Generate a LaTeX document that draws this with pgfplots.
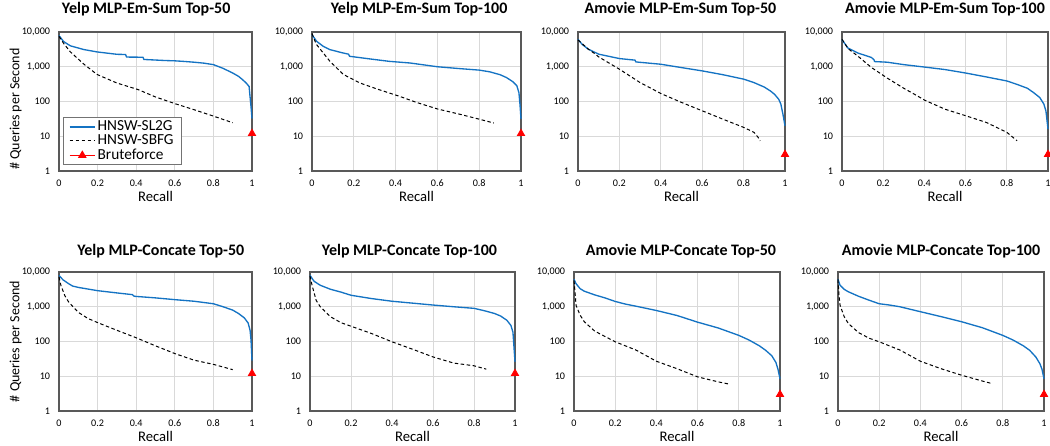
\documentclass[border=0pt]{standalone}
\usepackage{fontspec}
\setmainfont{Carlito}
\usepackage{pgfplots}
\pgfplotsset{compat=1.18}

\definecolor{sltwo}{RGB}{20,115,195}
\definecolor{gridc}{RGB}{217,217,217}
\newcommand{\lgf}{\fontsize{11.5}{12.5}\selectfont}

\pgfplotsset{
  panel/.style={
    scale only axis,
    anchor=south west,
    height=104.25pt,
    xmin=0, xmax=1, ymin=1, ymax=10000,
    clip=false,
    xtick={0,0.2,0.4,0.6,0.8,1},
    xticklabels={0,0.2,0.4,0.6,0.8,1},
    ytick={1,10,100,1000,10000},
    yticklabels={1,10,100,{1,000},{10,000}},
    minor ytick={}, major tick length=0pt, minor tick length=0pt,
    grid=major,
    grid style={gridc, line width=0.6pt},
    axis line style={black!65, line width=0.8pt},
    tick label style={font=\fontsize{7.6}{9}\selectfont},
    xticklabel style={anchor=base, inner sep=0pt, yshift=-12pt},
    yticklabel style={anchor=east, inner sep=0pt, xshift=-6.5pt},
    xlabel={Recall},
    xlabel style={font=\fontsize{11}{13}\selectfont, at={(axis description cs:0.5,0)}, anchor=base, yshift=-23pt},
    title style={font=\bfseries\fontsize{12}{14}\selectfont, at={(axis description cs:0.5,1)}, anchor=base},
  },
  sl/.style={sltwo, line width=1pt},
  sb/.style={black, line width=0.75pt, dash pattern=on 2.6pt off 1.9pt},
  bf/.style={red, line width=0.75pt, mark=triangle*, mark size=3pt, mark options={solid}},
  ylab/.style={ylabel={\# Queries per Second},
    ylabel style={font=\fontsize{10.5}{12}\selectfont, at={(axis description cs:-0.225,#1)}, anchor=center}},
  row1/.style={title style={yshift=7.7pt}},
  row2/.style={title style={yshift=6pt}},
}

\begin{document}
\begin{tikzpicture}
\useasboundingbox (0,0) rectangle (787.5pt,334.5pt);

% ---- row 1 ----
\begin{semilogyaxis}[panel, row1, ylab=0.446, at={(44.25pt,206.25pt)}, width=144.75pt,
  title={Yelp MLP-Em-Sum Top-50}, title style={xshift=-7pt},
  legend image code/.code={\draw[mark repeat=2,mark phase=2,#1] plot coordinates {(5pt,0pt)(14.5pt,0pt)(24pt,0pt)};},
  legend style={at={(0.022,0.043)}, anchor=south west, draw=black!55, line width=0.6pt,
    font=\lgf, row sep=0pt, inner xsep=4pt, inner ysep=1.5pt, fill=white,
    nodes={inner xsep=1.5pt, inner ysep=0.8pt, text depth=0.15em}},
  legend cell align=left]
\addplot[sl] coordinates {(0,7900)(0.024,5300)(0.059,4000)(0.128,3130)(0.197,2670)(0.3,2280)(0.345,2250)(0.35,1900)(0.435,1880)(0.44,1620)(0.55,1510)(0.6,1480)(0.65,1420)(0.7,1350)(0.75,1270)(0.8,1150)(0.85,900)(0.9,660)(0.93,530)(0.95,430)(0.97,340)(0.985,270)(0.99,135)(0.995,70)(1,32)};
\addlegendentry{HNSW-SL2G}
\addplot[sb] coordinates {(0,7500)(0.024,4700)(0.059,2670)(0.128,1200)(0.197,600)(0.3,340)(0.41,220)(0.5,135)(0.6,87)(0.7,58)(0.8,38)(0.9,24.5)};
\addlegendentry{HNSW-SBFG}
\addplot[bf] coordinates {(1,12)};
\addlegendentry{Bruteforce}
\end{semilogyaxis}

\begin{semilogyaxis}[panel, row1, at={(234pt,206.25pt)}, width=156.75pt,
  title={Yelp MLP-Em-Sum Top-100}, title style={xshift=2pt}]
\addplot[sl] coordinates {(0,8350)(0.022,5400)(0.054,3860)(0.086,3100)(0.15,2480)(0.175,2300)(0.18,2000)(0.27,1700)(0.37,1430)(0.47,1280)(0.6,1000)(0.7,890)(0.8,800)(0.85,715)(0.9,590)(0.93,490)(0.96,375)(0.98,285)(0.99,180)(0.995,85)(1,31)};
\addplot[sb] coordinates {(0,9000)(0.02,4500)(0.054,2480)(0.086,1430)(0.15,600)(0.23,340)(0.31,230)(0.42,140)(0.5,94)(0.6,61)(0.7,44)(0.8,31)(0.87,24)};
\addplot[bf] coordinates {(1,12)};
\end{semilogyaxis}

\begin{semilogyaxis}[panel, row1, at={(433.5pt,206.25pt)}, width=155.25pt,
  title={Amovie MLP-Em-Sum Top-50}, title style={xshift=-0.75pt}]
\addplot[sl] coordinates {(0,6150)(0.02,4400)(0.05,3200)(0.1,2300)(0.2,1720)(0.275,1550)(0.28,1375)(0.4,1180)(0.5,945)(0.6,760)(0.7,590)(0.8,440)(0.85,350)(0.9,260)(0.93,200)(0.95,160)(0.97,115)(0.98,84)(0.99,43)(1,20)};
\addplot[sb] coordinates {(0,5900)(0.05,3200)(0.08,2400)(0.1,1920)(0.2,850)(0.3,350)(0.4,170)(0.5,94)(0.6,54)(0.7,31)(0.8,18)(0.85,13)(0.87,9.3)(0.88,7.4)};
\addplot[bf] coordinates {(1,3)};
\end{semilogyaxis}

\begin{semilogyaxis}[panel, row1, at={(631.5pt,206.25pt)}, width=154.5pt,
  title={Amovie MLP-Em-Sum Top-100}]
\addplot[sl] coordinates {(0,6000)(0.029,3450)(0.078,2470)(0.142,1860)(0.155,1600)(0.158,1410)(0.22,1350)(0.3,1150)(0.4,980)(0.5,830)(0.6,660)(0.7,510)(0.8,390)(0.85,310)(0.9,240)(0.93,180)(0.96,130)(0.98,84)(0.99,53)(1,16)};
\addplot[sb] coordinates {(0,6150)(0.03,3300)(0.078,2000)(0.142,960)(0.22,470)(0.3,240)(0.37,140)(0.4,110)(0.5,60)(0.6,39)(0.7,25)(0.8,13)(0.85,7.4)};
\addplot[bf] coordinates {(1,3)};
\end{semilogyaxis}

% ---- row 2 ----
\begin{semilogyaxis}[panel, row2, ylab=0.5, at={(44.25pt,26.25pt)}, width=144.75pt,
  title={Yelp MLP-Concate Top-50}, title style={xshift=4pt}]
\addplot[sl] coordinates {(0,8000)(0.02,6000)(0.05,4600)(0.07,3950)(0.1,3600)(0.2,2900)(0.3,2500)(0.38,2230)(0.39,2000)(0.5,1800)(0.6,1600)(0.7,1440)(0.8,1220)(0.85,1000)(0.9,800)(0.93,640)(0.96,480)(0.98,340)(0.99,210)(0.995,110)(1,28)};
\addplot[sb] coordinates {(0,7200)(0.01,4100)(0.03,2100)(0.05,1370)(0.1,690)(0.15,460)(0.2,350)(0.3,210)(0.4,128)(0.5,75)(0.6,45)(0.7,29)(0.8,22)(0.9,15.5)};
\addplot[bf] coordinates {(1,12)};
\end{semilogyaxis}

\begin{semilogyaxis}[panel, row2, at={(232.5pt,26.25pt)}, width=153.75pt,
  title={Yelp MLP-Concate Top-100}, title style={xshift=-2.25pt}]
\addplot[sl] coordinates {(0,8000)(0.02,5400)(0.05,4150)(0.1,3180)(0.15,2650)(0.2,2140)(0.3,1720)(0.4,1440)(0.5,1270)(0.6,1120)(0.7,1000)(0.8,900)(0.85,770)(0.9,640)(0.93,540)(0.96,410)(0.98,290)(0.99,185)(1,26)};
\addplot[sb] coordinates {(0,7700)(0.01,4150)(0.03,1530)(0.05,1000)(0.1,515)(0.15,350)(0.2,275)(0.3,170)(0.4,98)(0.5,60)(0.6,36)(0.7,24)(0.8,20)(0.86,16)};
\addplot[bf] coordinates {(1,12)};
\end{semilogyaxis}

\begin{semilogyaxis}[panel, row2, at={(430.5pt,26.25pt)}, width=154.5pt,
  title={Amovie MLP-Concate Top-50}, title style={xshift=3pt}]
\addplot[sl] coordinates {(0,6150)(0.01,4600)(0.03,3300)(0.05,2800)(0.1,2200)(0.15,1800)(0.2,1420)(0.25,1190)(0.3,1040)(0.4,780)(0.5,560)(0.6,360)(0.7,245)(0.8,150)(0.85,110)(0.9,75)(0.93,56)(0.96,39)(0.98,25)(0.99,16)(1,8.5)};
\addplot[sb] coordinates {(0,5750)(0.005,2650)(0.01,1090)(0.03,570)(0.05,370)(0.1,200)(0.15,140)(0.2,98)(0.3,57)(0.4,27)(0.5,16.5)(0.6,9.6)(0.7,6.9)(0.75,6)};
\addplot[bf] coordinates {(1,3)};
\end{semilogyaxis}

\begin{semilogyaxis}[panel, row2, at={(628.5pt,26.25pt)}, width=154.5pt,
  title={Amovie MLP-Concate Top-100}]
\addplot[sl] coordinates {(0,6150)(0.01,4150)(0.03,3170)(0.05,2700)(0.1,2000)(0.15,1550)(0.2,1220)(0.25,1120)(0.3,1000)(0.4,720)(0.5,520)(0.6,370)(0.7,250)(0.8,150)(0.85,110)(0.9,75)(0.93,56)(0.96,36)(0.98,23)(0.99,16)(1,8.5)};
\addplot[sb] coordinates {(0,6150)(0.005,2100)(0.01,1100)(0.03,520)(0.05,330)(0.1,180)(0.15,125)(0.2,98)(0.3,57)(0.4,27)(0.5,16.5)(0.6,10.7)(0.7,7.3)(0.75,6.1)};
\addplot[bf] coordinates {(1,3)};
\end{semilogyaxis}
\end{tikzpicture}
\end{document}
